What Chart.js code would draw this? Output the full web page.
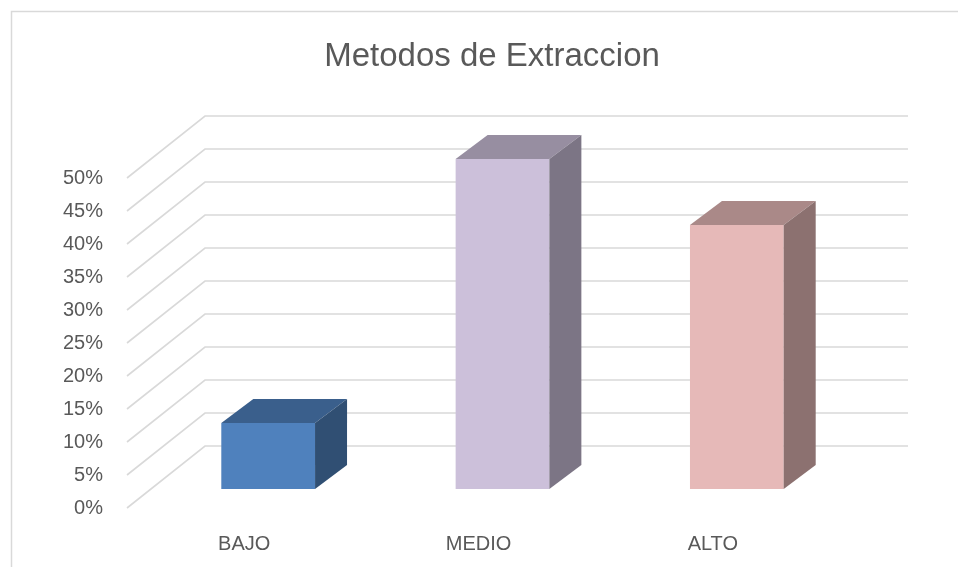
<!DOCTYPE html>
<html>
<head>
<meta charset="utf-8">
<script src="https://cdn.jsdelivr.net/npm/chart.js@4/dist/chart.umd.min.js"></script>
<style>
  html, body { margin: 0; padding: 0; background: #fff; }
  canvas { display: block; }
</style>
</head>
<body>
<canvas id="grafico" width="958" height="567"></canvas>
<script>
// Datos del grafico
const categorias = ['BAJO', 'MEDIO', 'ALTO'];
const porcentajes = [0.10, 0.50, 0.40];
const titulo = 'Metodos de Extraccion';

const fuente = 'Liberation Sans, Arial, sans-serif';
const gris = '#595959';
const lineaGris = '#d9d9d9';

// Profundidad del piso/pared y de las barras
const fondo = { dx: 78, dy: -62 };
const frenteBarra = { dx: 24, dy: -19 };
const cuerpoBarra = { dx: 32, dy: -24 };

function oscurecer(hex, f) {
  const n = parseInt(hex.slice(1), 16);
  const r = Math.round(((n >> 16) & 255) * f);
  const g = Math.round(((n >> 8) & 255) * f);
  const b = Math.round((n & 255) * f);
  return `rgb(${r},${g},${b})`;
}

const efecto3d = {
  id: 'efecto3d',
  beforeDraw(chart) {
    const ctx = chart.ctx;
    ctx.save();
    // marco del area
    ctx.strokeStyle = lineaGris;
    ctx.lineWidth = 1.5;
    ctx.beginPath();
    ctx.moveTo(11.5, chart.height);
    ctx.lineTo(11.5, 11.5);
    ctx.lineTo(chart.width, 11.5);
    ctx.stroke();
    // titulo
    ctx.fillStyle = gris;
    ctx.font = `33px ${fuente}`;
    ctx.textAlign = 'center';
    ctx.textBaseline = 'alphabetic';
    ctx.fillText(titulo, 492, 66);
    ctx.restore();
  },
  beforeDatasetsDraw(chart) {
    const ctx = chart.ctx;
    const y = chart.scales.y;
    const area = chart.chartArea;
    ctx.save();
    ctx.strokeStyle = lineaGris;
    ctx.lineWidth = 1.6;
    y.ticks.forEach(t => {
      const py = y.getPixelForValue(t.value);
      ctx.beginPath();
      ctx.moveTo(area.left, py);
      ctx.lineTo(area.left + fondo.dx, py + fondo.dy);
      ctx.lineTo(area.right + fondo.dx, py + fondo.dy);
      ctx.stroke();
    });
    ctx.restore();
  },
  beforeDatasetDraw(chart, args) {
    const ctx = chart.ctx;
    const ds = chart.data.datasets[args.index];
    ctx.save();
    args.meta.data.forEach((el, i) => {
      const p = el.getProps(['x', 'y', 'base', 'width'], true);
      const x0 = p.x - p.width / 2 + frenteBarra.dx;
      const x1 = p.x + p.width / 2 + frenteBarra.dx;
      const top = p.y + frenteBarra.dy;
      const bot = p.base + frenteBarra.dy;
      const color = ds.backgroundColor[i];
      // cara frontal
      ctx.fillStyle = color;
      ctx.fillRect(x0, top, x1 - x0, bot - top);
      // cara superior
      ctx.fillStyle = oscurecer(color, 0.74);
      ctx.beginPath();
      ctx.moveTo(x0, top);
      ctx.lineTo(x1, top);
      ctx.lineTo(x1 + cuerpoBarra.dx, top + cuerpoBarra.dy);
      ctx.lineTo(x0 + cuerpoBarra.dx, top + cuerpoBarra.dy);
      ctx.closePath();
      ctx.fill();
      // cara lateral
      ctx.fillStyle = oscurecer(color, 0.61);
      ctx.beginPath();
      ctx.moveTo(x1, top);
      ctx.lineTo(x1 + cuerpoBarra.dx, top + cuerpoBarra.dy);
      ctx.lineTo(x1 + cuerpoBarra.dx, bot + cuerpoBarra.dy);
      ctx.lineTo(x1, bot);
      ctx.closePath();
      ctx.fill();
    });
    ctx.restore();
    return false;
  }
};

new Chart(document.getElementById('grafico'), {
  type: 'bar',
  data: {
    labels: categorias,
    datasets: [{
      label: titulo,
      data: porcentajes,
      backgroundColor: ['#4f81bd', '#ccc0da', '#e6b9b8'],
      barPercentage: 0.4,
      categoryPercentage: 1
    }]
  },
  options: {
    responsive: false,
    animation: false,
    devicePixelRatio: 1,
    layout: { padding: { top: 178, right: 128, bottom: 0, left: 0 } },
    scales: {
      x: {
        grid: { display: false },
        border: { display: false },
        ticks: { color: gris, font: { family: fuente, size: 20 }, padding: 16 },
        afterFit(scale) { scale.height = 59; }
      },
      y: {
        min: 0,
        max: 0.5,
        grid: { display: false },
        border: { display: false },
        ticks: {
          stepSize: 0.05,
          color: gris,
          font: { family: fuente, size: 20 },
          padding: 16,
          callback: v => Math.round(v * 100) + '%'
        },
        afterFit(scale) { scale.width = 127; }
      }
    },
    plugins: {
      legend: { display: false },
      title: { display: false },
      tooltip: { enabled: false }
    }
  },
  plugins: [efecto3d]
});
</script>
</body>
</html>
